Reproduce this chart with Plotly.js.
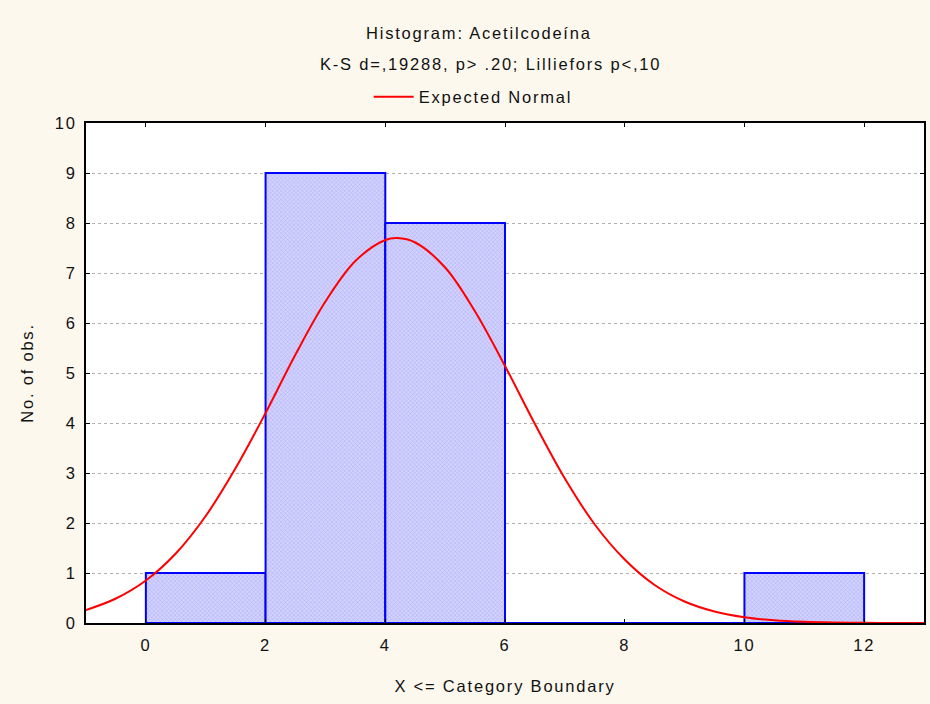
<!DOCTYPE html>
<html>
<head>
<meta charset="utf-8">
<script src="https://cdn.plot.ly/plotly-3.0.1.min.js"></script>
<style>
html,body{margin:0;padding:0;background:#fdf8ee;}
svg text{letter-spacing:1.8px;}
</style>
</head>
<body>
<div id="chart" style="width:930px;height:704px;"></div>
<script>
// Histogram bins (upper boundaries) and counts
const binLower = [0, 2, 4, 6, 8, 10];
const binUpper = [2, 4, 6, 8, 10, 12];
const counts = [1, 9, 8, 0, 0, 1];

// Expected normal curve
const curveX = [-1, -0.5, 0, 0.5, 1, 1.5, 2, 2.5, 3, 3.5, 4, 4.2, 4.5, 5, 5.5, 6, 6.5, 7, 7.5, 8, 8.5, 9, 9.5, 10, 10.5, 11, 11.5, 12, 12.5, 13];
const curveY = [0.26, 0.49, 0.85, 1.39, 2.14, 3.10, 4.20, 5.37, 6.43, 7.24, 7.66, 7.70, 7.61, 7.11, 6.23, 5.14, 3.98, 2.89, 1.97, 1.27, 0.76, 0.43, 0.23, 0.115, 0.054, 0.024, 0.01, 0.004, 0.001, 0.0];

const xTicks = [0, 2, 4, 6, 8, 10, 12];
const yTicks = [0, 1, 2, 3, 4, 5, 6, 7, 8, 9, 10];

const titleText = "Histogram: Acetilcodeína";
const subtitleText = "K-S d=,19288, p> .20; Lilliefors p<,10";
const xTitle = "X <= Category Boundary";
const yTitle = "No. of obs.";
const legendName = "Expected Normal";

const mids = binLower.map((l, i) => (l + binUpper[i]) / 2);
const widths = binLower.map((l, i) => binUpper[i] - l);

const font = "Liberation Sans, Arial, sans-serif";
const fs = 16.5;

const traces = [
  {
    type: "bar",
    x: mids,
    y: counts,
    width: widths,
    marker: {
      color: "#c4c4fa",
      line: {color: "#0000ff", width: 2},
      pattern: {shape: "x", size: 3, solidity: 0.3, fgcolor: "#acacf6", bgcolor: "#d2d2ff", fillmode: "replace"}
    },
    showlegend: false,
    hoverinfo: "x+y"
  },
  {
    type: "scatter",
    mode: "lines",
    x: curveX,
    y: curveY,
    name: legendName,
    line: {color: "#ff0000", width: 2, shape: "spline"},
    cliponaxis: true
  }
];

const layout = {
  width: 930,
  height: 704,
  paper_bgcolor: "#fdf8ee",
  plot_bgcolor: "#ffffff",
  margin: {l: 86, r: 6, t: 123, b: 81},
  font: {family: font, size: fs, color: "#111111"},
  showlegend: true,
  legend: {
    orientation: "h",
    x: 0.462, xanchor: "center",
    y: 1.052, yanchor: "middle",
    bgcolor: "rgba(0,0,0,0)",
    font: {family: font, size: fs, color: "#111111"},
    itemwidth: 40
  },
  bargap: 0,
  xaxis: {
    range: [-1, 13],
    tickvals: xTicks,
    ticks: "inside",
    ticklen: 4,
    tickcolor: "#000",
    showline: true,
    linecolor: "#000",
    linewidth: 2,
    mirror: "ticks",
    showgrid: false,
    zeroline: false,
    ticklabelstandoff: 6,
    tickfont: {family: font, size: fs, color: "#111"},
    title: {text: xTitle, font: {family: font, size: fs, color: "#111"}, standoff: 28}
  },
  yaxis: {
    range: [0, 10],
    tickvals: yTicks,
    ticks: "inside",
    ticklen: 4,
    tickcolor: "#000",
    showline: true,
    linecolor: "#000",
    linewidth: 2,
    mirror: "ticks",
    showgrid: true,
    gridcolor: "#b0b0b0",
    griddash: "dot",
    gridwidth: 1,
    zeroline: false,
    ticklabelstandoff: 4,
    tickfont: {family: font, size: fs, color: "#111"},
    title: {text: yTitle, font: {family: font, size: fs, color: "#111"}, standoff: 17}
  },
  annotations: [
    {text: titleText, xref: "paper", yref: "paper", x: 0.469, y: 1.18, xanchor: "center", yanchor: "middle", showarrow: false, font: {family: font, size: fs, color: "#111"}},
    {text: subtitleText, xref: "paper", yref: "paper", x: 0.483, y: 1.118, xanchor: "center", yanchor: "middle", showarrow: false, font: {family: font, size: fs, color: "#111"}}
  ]
};

Plotly.newPlot("chart", traces, layout, {displayModeBar: false, staticPlot: true});
</script>
</body>
</html>
